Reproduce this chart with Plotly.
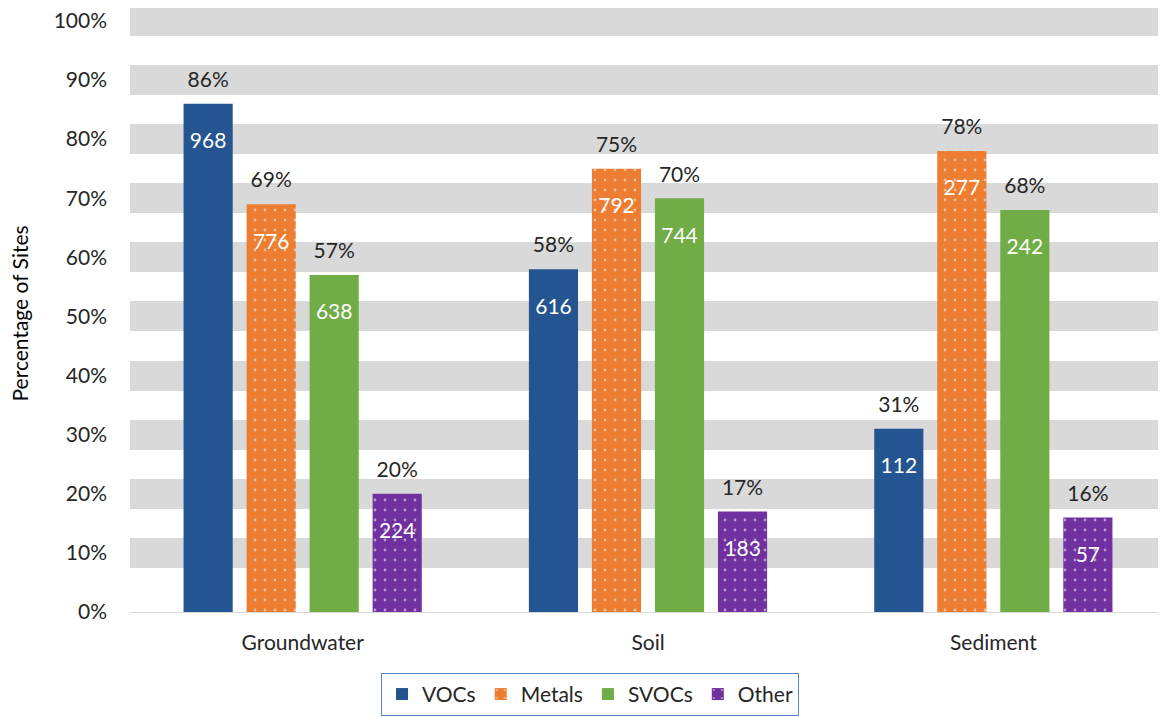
import plotly.graph_objects as go

categories = ["Groundwater", "Soil", "Sediment"]
series_names = ["VOCs", "Metals", "SVOCs", "Other"]
voc_pct = [0.86, 0.58, 0.31]
metals_pct = [0.69, 0.75, 0.78]
svoc_pct = [0.57, 0.70, 0.68]
other_pct = [0.20, 0.17, 0.16]
voc_n = [968, 616, 112]
metals_n = [776, 792, 277]
svoc_n = [638, 744, 242]
other_n = [224, 183, 57]

pcts = [voc_pct, metals_pct, svoc_pct, other_pct]
counts = [voc_n, metals_n, svoc_n, other_n]
colors = ["#245591", "#ED7D31", "#70AD47", "#7030A0"]
patterned = [False, True, False, True]

FONT = "Lato"
FS = 21
INVIS = "<span style='color:rgba(0,0,0,0)'>.</span>"
fig = go.Figure()
for i, name in enumerate(series_names):
    marker = dict(color=colors[i], line=dict(width=0))
    if patterned[i]:
        marker["pattern"] = dict(shape=".", fgcolor="white", bgcolor=colors[i],
                                 size=10, solidity=0.06, fillmode="overlay")
    fig.add_trace(go.Bar(
        x=categories, y=pcts[i], name=name, offsetgroup=str(i),
        marker=marker,
        text=[INVIS + "<br><span style='font-size:21px'>" + str(c) + "</span>" for c in counts[i]],
        textposition="inside", insidetextanchor="end",
        textfont=dict(color="white", size=18, family=FONT),
        hoverinfo="skip",
    ))
    fig.add_trace(go.Bar(
        x=categories, y=pcts[i], name=name + " pct", offsetgroup=str(i),
        marker=dict(color="rgba(0,0,0,0)", line=dict(width=0)),
        texttemplate="<span style='font-size:21px'>%{y:.0%}</span><br> ",
        textposition="outside",
        textfont=dict(color="#262626", size=9, family=FONT),
        showlegend=False, hoverinfo="skip", cliponaxis=False,
    ))

fig.update_layout(
    width=1158, height=717,
    barmode="group", bargap=0.27, bargroupgap=0.22,
    plot_bgcolor="white", paper_bgcolor="white",
    margin=dict(l=122, r=0, t=7, b=113),
    font=dict(family=FONT, size=FS, color="#262626"),
    showlegend=True,
    legend=dict(orientation="h", x=0.444, xanchor="center", y=-0.102, yanchor="top",
                bordercolor="#5B86C0", borderwidth=1, font=dict(size=FS, family=FONT),
                traceorder="normal", itemwidth=30),
    annotations=[dict(text="Percentage of Sites", textangle=-90, xref="paper", yref="paper",
                      x=-0.1062, y=0.5, xanchor="center", yanchor="middle", showarrow=False,
                      font=dict(size=21, family=FONT, color="#000000"))],
)
fig.update_yaxes(range=[0, 1.01], tickvals=[i / 10 for i in range(11)], tickformat=".0%",
                 showgrid=True, gridcolor="#D9D9D9", gridwidth=30,
                 zeroline=True, zerolinecolor="#D9D9D9", zerolinewidth=1,
                 ticks="", ticklabelstandoff=22, automargin=False, ticklabeloverflow="allow",
                 tickfont=dict(size=FS, family=FONT, color="#262626"))
fig.update_xaxes(showgrid=False, showline=False, ticks="", ticklabelstandoff=16, automargin=False,
                 tickfont=dict(size=FS, family=FONT, color="#262626"))

fig.write_html("out.html")
